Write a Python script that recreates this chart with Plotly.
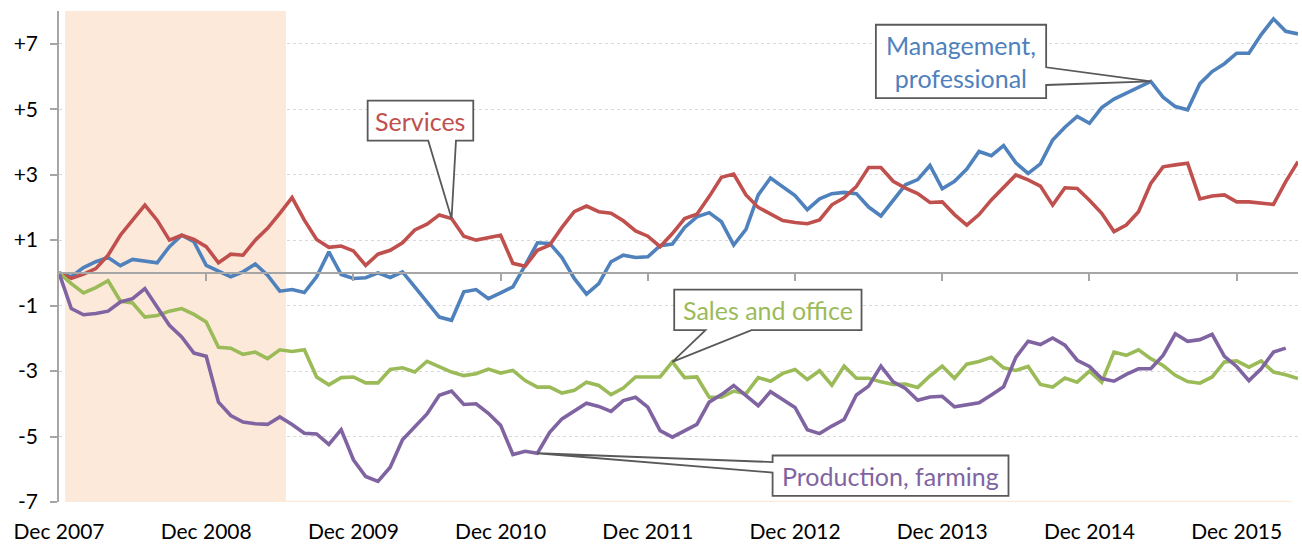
import pandas as pd
import plotly.graph_objects as go

# ---------------- data ----------------
months = pd.date_range("2007-12-01", periods=102, freq="MS").strftime("%b %Y").tolist()
tick_labels = ["Dec 2007", "Dec 2008", "Dec 2009", "Dec 2010", "Dec 2011",
               "Dec 2012", "Dec 2013", "Dec 2014", "Dec 2015"]
y_tick_vals = [-7, -5, -3, -1, 1, 3, 5, 7]
y_tick_text = ["-7", "-5", "-3", "-1", "+1", "+3", "+5", "+7"]
recession = ("Jan 2008", "Jun 2009")

management = [0, -0.12, 0.16, 0.34, 0.47, 0.22, 0.41, 0.36, 0.31, 0.80,
              1.15, 0.95, 0.23, 0.05, -0.12, 0.03, 0.27, -0.07, -0.56, -0.51,
              -0.60, -0.12, 0.64, -0.05, -0.17, -0.15, 0.00, -0.14, 0.03, -0.43,
              -0.89, -1.35, -1.45, -0.58, -0.51, -0.79, -0.61, -0.43, 0.23, 0.92,
              0.90, 0.47, -0.17, -0.65, -0.33, 0.34, 0.54, 0.47, 0.49, 0.83,
              0.88, 1.39, 1.71, 1.84, 1.56, 0.85, 1.33, 2.38, 2.90, 2.64,
              2.36, 1.93, 2.26, 2.42, 2.46, 2.42, 2.01, 1.74, 2.23, 2.69,
              2.85, 3.28, 2.57, 2.80, 3.17, 3.71, 3.58, 3.89, 3.36, 3.04,
              3.33, 4.06, 4.45, 4.78, 4.57, 5.05, 5.31, 5.49, 5.64, 5.85,
              5.37, 5.08, 4.98, 5.78, 6.15, 6.39, 6.71, 6.71, 7.28, 7.76,
              7.38, 7.30]

services = [0, -0.17, -0.04, 0.13, 0.54, 1.15, 1.61, 2.07, 1.61, 1.00,
            1.15, 1.02, 0.80, 0.31, 0.57, 0.54, 1.00, 1.36, 1.82, 2.30,
            1.61, 1.02, 0.78, 0.82, 0.67, 0.23, 0.57, 0.69, 0.92, 1.31,
            1.49, 1.77, 1.66, 1.12, 1.00, 1.08, 1.15, 0.29, 0.20, 0.69,
            0.85, 1.39, 1.87, 2.04, 1.87, 1.82, 1.59, 1.28, 1.12, 0.80,
            1.20, 1.66, 1.79, 2.33, 2.92, 3.02, 2.38, 2.00, 1.81, 1.60,
            1.54, 1.50, 1.62, 2.08, 2.29, 2.64, 3.22, 3.22, 2.80, 2.59,
            2.42, 2.15, 2.17, 1.78, 1.46, 1.78, 2.23, 2.60, 2.99, 2.84,
            2.65, 2.07, 2.60, 2.58, 2.22, 1.82, 1.26, 1.46, 1.87, 2.73,
            3.24, 3.30, 3.35, 2.26, 2.35, 2.38, 2.17, 2.17, 2.12, 2.09,
            2.79, 3.40]

sales_office = [0, -0.33, -0.61, -0.45, -0.24, -0.86, -0.92, -1.35, -1.30, -1.17,
                -1.09, -1.27, -1.50, -2.27, -2.30, -2.49, -2.42, -2.62, -2.35, -2.40,
                -2.35, -3.18, -3.42, -3.20, -3.18, -3.36, -3.36, -2.95, -2.90, -3.03,
                -2.70, -2.88, -3.03, -3.14, -3.08, -2.94, -3.06, -2.98, -3.29, -3.49,
                -3.49, -3.67, -3.59, -3.34, -3.44, -3.72, -3.52, -3.18, -3.18, -3.18,
                -2.72, -3.20, -3.18, -3.80, -3.80, -3.61, -3.69, -3.20, -3.31, -3.07,
                -2.95, -3.26, -2.99, -3.43, -2.85, -3.22, -3.22, -3.33, -3.41, -3.40,
                -3.50, -3.15, -2.85, -3.22, -2.79, -2.71, -2.58, -2.90, -2.98, -2.86,
                -3.41, -3.49, -3.21, -3.34, -3.00, -3.34, -2.42, -2.52, -2.35, -2.62,
                -2.83, -3.13, -3.32, -3.37, -3.18, -2.72, -2.69, -2.88, -2.69, -3.03,
                -3.11, -3.23]

production = [0, -1.09, -1.28, -1.24, -1.17, -0.89, -0.79, -0.48, -1.04, -1.60,
              -1.96, -2.45, -2.55, -3.95, -4.36, -4.56, -4.61, -4.63, -4.40, -4.63,
              -4.90, -4.92, -5.24, -4.79, -5.71, -6.22, -6.37, -5.94, -5.10, -4.69,
              -4.31, -3.74, -3.61, -4.02, -4.00, -4.29, -4.66, -5.55, -5.45, -5.51,
              -4.87, -4.46, -4.23, -3.98, -4.08, -4.23, -3.90, -3.80, -4.10, -4.82,
              -5.02, -4.82, -4.63, -3.95, -3.72, -3.44, -3.74, -4.06, -3.63, -3.87,
              -4.11, -4.79, -4.91, -4.68, -4.48, -3.73, -3.46, -2.85, -3.33, -3.53,
              -3.89, -3.79, -3.77, -4.09, -4.02, -3.97, -3.73, -3.48, -2.58, -2.09,
              -2.19, -1.99, -2.21, -2.67, -2.86, -3.23, -3.31, -3.10, -2.93, -2.93,
              -2.52, -1.86, -2.09, -2.04, -1.88, -2.55, -2.86, -3.29, -2.93, -2.42,
              -2.30]

# ---------------- styles ----------------
FONT = "Lato"
C_BLUE, C_RED, C_GREEN, C_PURPLE = "#4F81BD", "#C0504D", "#9BBB59", "#8064A2"
AXIS_GRAY = "#A6A6A6"
BOX_GRAY = "#595959"
SHADE = "#FCE9DA"
Y_MIN, Y_MAX = -7, 8

series = [
    ("Management, professional", management, C_BLUE),
    ("Services", services, C_RED),
    ("Sales and office", sales_office, C_GREEN),
    ("Production, farming", production, C_PURPLE),
]

fig = go.Figure()
for name, vals, col in series:
    idx = list(range(len(vals)))
    fig.add_trace(go.Scatter(
        x=idx, y=vals, mode="lines", name=name,
        line=dict(color=col, width=3.6),
        customdata=[months[i] for i in idx],
        hovertemplate="%{customdata}: %{y:+.2f}<extra>" + name + "</extra>",
        showlegend=False,
    ))

# invisible trace carrying the zero-level axis (x2)
fig.add_trace(go.Scatter(x=list(range(len(months))), y=[None] * len(months),
                         xaxis="x2", yaxis="y", showlegend=False, hoverinfo="skip"))

tick_idx = [months.index(t) for t in tick_labels]
x_max = len(months) - 1

# recession shading
r0 = months.index(recession[0]) - 0.5
r1 = months.index(recession[1]) + 0.5
shapes = [
    dict(type="rect", xref="x", yref="y", x0=r0, x1=r1, y0=Y_MIN, y1=Y_MAX,
         fillcolor=SHADE, line=dict(width=0), layer="between"),
    dict(type="line", xref="x", yref="y", x0=r1, x1=len(production) - 0.5,
         y0=Y_MIN, y1=Y_MIN, line=dict(color=SHADE, width=2.5), layer="between"),
]


def callout(box, wedge, tip):
    """box=(x0,x1,y0,y1); wedge=(side, a, b); tip=(x,y)"""
    x0, x1, y0, y1 = box
    side, a, b = wedge
    tx, ty = tip
    if side == "bottom":
        pts = [(x0, y1), (x1, y1), (x1, y0), (b, y0), (tx, ty), (a, y0), (x0, y0)]
    elif side == "left":
        pts = [(x0, y1), (x1, y1), (x1, y0), (x0, y0), (x0, b), (tx, ty), (x0, a)]
    else:  # right
        pts = [(x0, y1), (x1, y1), (x1, a), (tx, ty), (x1, b), (x1, y0), (x0, y0)]
    path = "M " + " L ".join(f"{px},{py}" for px, py in pts) + " Z"
    return dict(type="path", xref="x", yref="y", path=path, fillcolor="white",
                line=dict(color=BOX_GRAY, width=1.8), layer="above")


callouts = [
    # text, color, box, wedge, tip index, series
    ("Services", C_RED, (25.16, 33.77, 4.04, 5.26), ("bottom", 30.1, 32.36), 32, services),
    ("Sales and office", C_GREEN, (50.15, 65.42, -1.75, -0.51), ("bottom", 52.7, 56.45), 50, sales_office),
    ("Production, farming", C_PURPLE, (58.17, 77.4, -6.81, -5.58), ("left", -5.78, -6.10), 39, production),
    ("Management,<br>professional", C_BLUE, (66.59, 80.47, 5.34, 7.58), ("right", 6.28, 5.74), 89, management),
]

annotations = []
for text, col, box, wedge, ti, vals in callouts:
    shapes.append(callout(box, wedge, (ti, vals[ti])))
    annotations.append(dict(
        x=(box[0] + box[1]) / 2, y=(box[2] + box[3]) / 2, xref="x", yref="y",
        text=text, showarrow=False, align="center",
        font=dict(family=FONT, size=25, color=col),
    ))

fig.update_layout(
    width=1302, height=545,
    margin=dict(l=59, r=4, t=11, b=43),
    paper_bgcolor="white", plot_bgcolor="white",
    font=dict(family=FONT, size=21, color="#000000"),
    shapes=shapes, annotations=annotations,
    hovermode="closest",
    xaxis=dict(
        range=[0, x_max], tickmode="array", tickvals=tick_idx, ticktext=tick_labels,
        showgrid=False, zeroline=False, showline=False, ticks="",
        ticklabelstandoff=15, automargin=False,
        tickfont=dict(family=FONT, size=21, color="#000000"),
    ),
    xaxis2=dict(
        overlaying="x", matches="x", anchor="free", position=(0 - Y_MIN) / (Y_MAX - Y_MIN),
        tickmode="array", tickvals=tick_idx[1:], showticklabels=False,
        showgrid=False, zeroline=False, showline=True, linecolor=AXIS_GRAY, linewidth=1.6,
        ticks="outside", ticklen=7, tickwidth=1.6, tickcolor=AXIS_GRAY, automargin=False,
    ),
    yaxis=dict(
        range=[Y_MIN, Y_MAX], tickmode="array", tickvals=y_tick_vals, ticktext=y_tick_text,
        showgrid=True, gridcolor="#D9D9D9", griddash="dot", gridwidth=1,
        zeroline=False, showline=True, linecolor=AXIS_GRAY, linewidth=1.6,
        ticks="outside", ticklen=7, tickwidth=1.6, tickcolor=AXIS_GRAY,
        ticklabelstandoff=8, automargin=False,
        tickfont=dict(family=FONT, size=21, color="#000000"),
    ),
)

fig.write_html("out.html", config={"displayModeBar": False},
               post_script="document.body.style.margin='0px';")
